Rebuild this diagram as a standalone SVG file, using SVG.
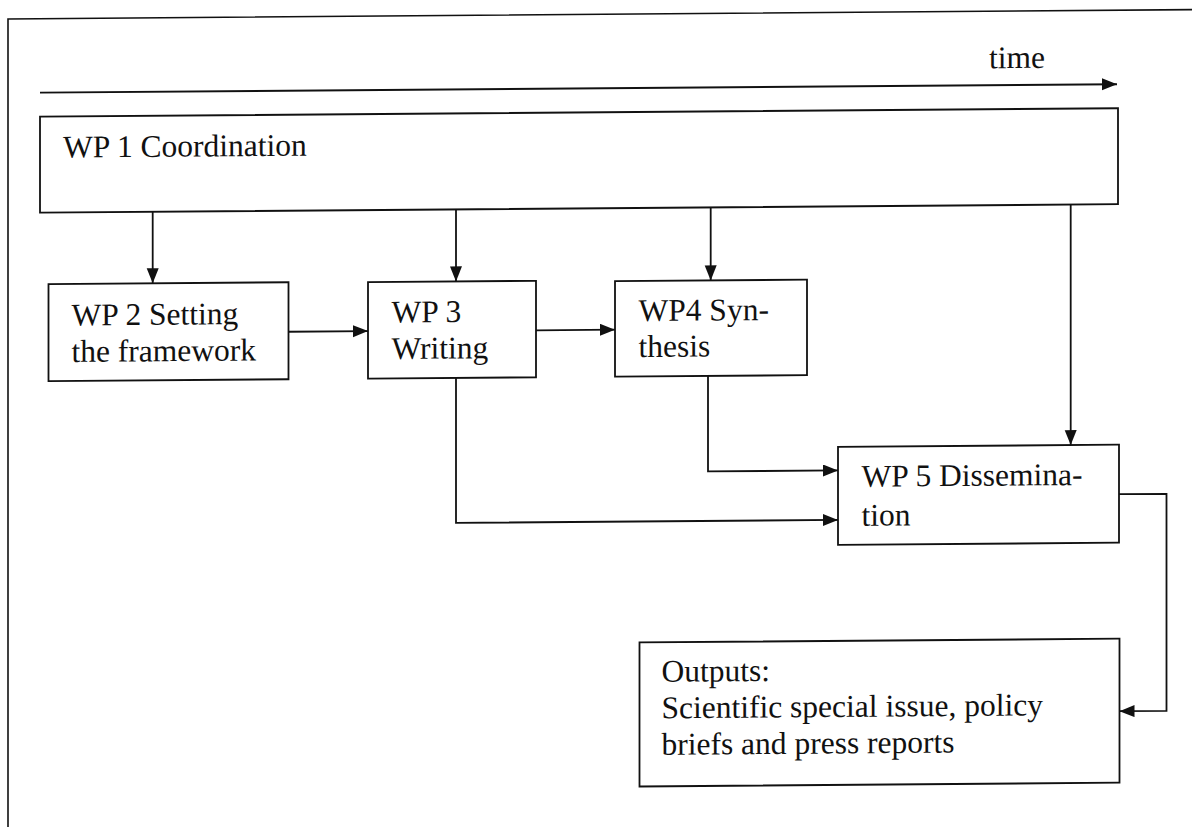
<svg xmlns="http://www.w3.org/2000/svg" width="1192" height="827" viewBox="0 0 1192 827">
  <style>
    .box { fill: #fff; stroke: #111; stroke-width: 1.8; }
    .frame { fill: none; stroke: #111; stroke-width: 1.6; }
    .conn { fill: none; stroke: #111; stroke-width: 1.8; }
    .arrow { fill: none; stroke: #111; stroke-width: 1.8; marker-end: url(#ah); }
    .lbl { font-family: 'Liberation Serif', 'DejaVu Serif', serif; font-size: 31.5px; fill: #111; }
  </style>
  <defs>
    <marker id="ah" markerUnits="userSpaceOnUse" markerWidth="16" markerHeight="13" refX="15" refY="6" orient="auto">
      <path d="M0,0 L15,6 L0,12 z" fill="#111"/>
    </marker>
  </defs>
  <rect x="0" y="0" width="1192" height="827" fill="#fff"/>
  <g transform="skewY(-0.45)" font-family="Liberation Serif, serif">
    <g id="frame">
      <path class="frame" d="M8,840 L8,19 L1200,19"/>
    </g>
    <g id="time-axis">
      <line class="arrow" x1="40" y1="93" x2="1117" y2="93"/>
      <text class="lbl" x="989" y="76">time</text>
    </g>
    <g id="connectors">
      <line class="arrow" x1="152.7" y1="213" x2="152.7" y2="284.5"/>
      <line class="arrow" x1="456" y1="213" x2="456" y2="285"/>
      <line class="arrow" x1="710.7" y1="213" x2="710.7" y2="286"/>
      <line class="arrow" x1="1070.7" y1="213" x2="1070.7" y2="453.5"/>
      <line class="arrow" x1="288.5" y1="334" x2="368" y2="334"/>
      <line class="arrow" x1="536" y1="334.5" x2="615" y2="334.5"/>
      <polyline class="arrow" points="708,381.5 708,477 838,477"/>
      <polyline class="arrow" points="456,381 456,526.5 838,526.5"/>
      <polyline class="arrow" points="1119,503 1166.5,503 1166.5,720 1119.5,720"/>
    </g>
    <g id="wp1">
      <rect class="box" x="40" y="117" width="1078" height="96"/>
      <text class="lbl" x="63" y="158">WP 1 Coordination</text>
    </g>
    <g id="wp2">
      <rect class="box" x="48.5" y="284.5" width="240" height="97"/>
      <text class="lbl" x="71.5" y="326">WP 2 Setting</text>
      <text class="lbl" x="71.5" y="362.5">the framework</text>
    </g>
    <g id="wp3">
      <rect class="box" x="368" y="285" width="168" height="96.5"/>
      <text class="lbl" x="391.5" y="325.5">WP 3</text>
      <text class="lbl" x="391.5" y="362">Writing</text>
    </g>
    <g id="wp4">
      <rect class="box" x="615" y="286" width="192" height="95.5"/>
      <text class="lbl" x="638.5" y="326">WP4 Syn-</text>
      <text class="lbl" x="638.5" y="362">thesis</text>
    </g>
    <g id="wp5">
      <rect class="box" x="838" y="453.5" width="281" height="98"/>
      <text class="lbl" x="861.5" y="493.5">WP 5 Dissemina-</text>
      <text class="lbl" x="861.5" y="532.5">tion</text>
    </g>
    <g id="outputs">
      <rect class="box" x="639.5" y="647.5" width="480" height="144"/>
      <text class="lbl" x="661.5" y="687">Outputs:</text>
      <text class="lbl" x="661.5" y="723.5">Scientific special issue, policy</text>
      <text class="lbl" x="661.5" y="760">briefs and press reports</text>
    </g>
  </g>
</svg>
